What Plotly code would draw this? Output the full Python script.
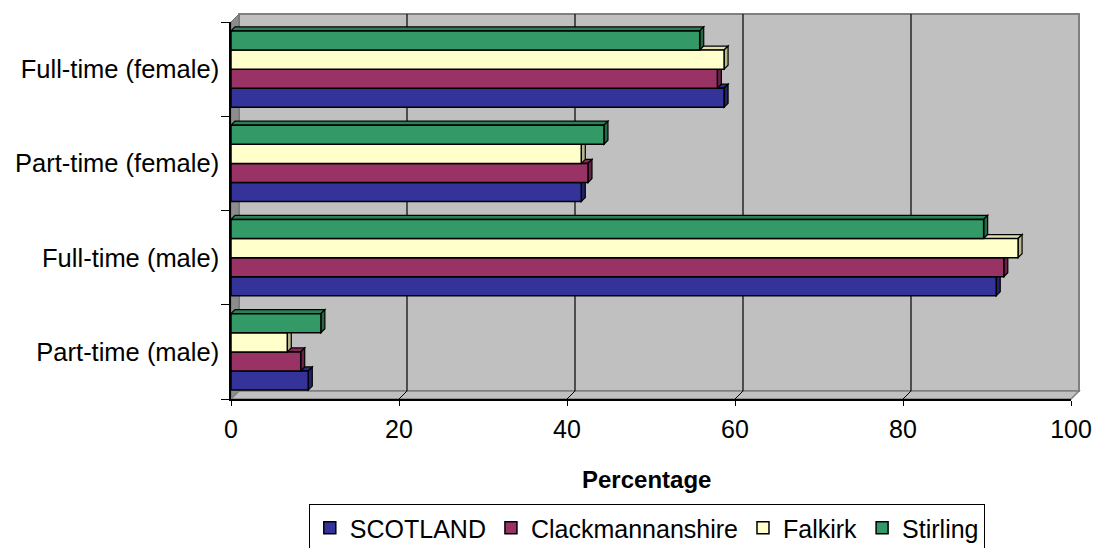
import plotly.graph_objects as go

categories = ["Part-time (male)", "Full-time (male)", "Part-time (female)", "Full-time (female)"]
series_names = ["SCOTLAND", "Clackmannanshire", "Falkirk", "Stirling"]
scotland = [9.2, 91.1, 41.7, 58.7]
clackmannanshire = [8.3, 92.0, 42.5, 57.9]
falkirk = [6.7, 93.7, 41.7, 58.7]
stirling = [10.7, 89.6, 44.4, 55.8]
x_ticks = [0, 20, 40, 60, 80, 100]

series_values = [scotland, clackmannanshire, falkirk, stirling]
front_colors = ["#333399", "#993366", "#FFFFCC", "#339966"]
side_colors = ["#22226A", "#6A2247", "#B8B890", "#236B47"]
top_colors = ["#2A2A80", "#802B55", "#E0E0B0", "#2B8057"]

W, H = 1094, 548
ML, MR, MT, MB = 231, 23, 22, 149
PW, PH = W - ML - MR, H - MT - MB
DEPTH = 8           # wall depth in px
BAR_DEPTH = 4       # bar depth in px
BARGAP = 0.19
XMAX = 100
YMIN, YMAX = -0.5, len(categories) - 0.5

ox, oy = DEPTH / PW, DEPTH / PH
px_per_x = PW / XMAX
px_per_y = PH / (YMAX - YMIN)
bdx, bdy = BAR_DEPTH / px_per_x, BAR_DEPTH / px_per_y

FONT = "Liberation Sans, Arial, sans-serif"

fig = go.Figure()
ypos = list(range(len(categories)))
for name, vals, col in zip(series_names, series_values, front_colors):
    fig.add_trace(go.Bar(
        y=ypos, x=vals, name=name, orientation="h",
        marker=dict(color=col, line=dict(color="black", width=1.5)),
    ))

shapes = []
# back wall
shapes.append(dict(type="rect", xref="paper", yref="paper", x0=ox, x1=1 + ox, y0=oy, y1=1 + oy,
                   fillcolor="#C0C0C0", line=dict(color="#808080", width=2), layer="below"))
# left wall
shapes.append(dict(type="path", xref="paper", yref="paper",
                   path=f"M 0,0 L 0,1 L {ox},{1+oy} L {ox},{oy} Z",
                   fillcolor="#8C8C8C", line=dict(color="#707070", width=1), layer="below"))
# floor
shapes.append(dict(type="path", xref="paper", yref="paper",
                   path=f"M 0,0 L {ox},{oy} L {1+ox},{oy} L 1,0 Z",
                   fillcolor="#C0C0C0", line=dict(color="#808080", width=1.5), layer="below"))
# gridlines on back wall and floor ticks
for v in x_ticks[1:-1]:
    shapes.append(dict(type="line", xref="x", yref="paper", xsizemode="pixel", xanchor=v,
                       x0=DEPTH, x1=DEPTH, y0=oy, y1=1 + oy,
                       line=dict(color="black", width=1.2), layer="below"))
    shapes.append(dict(type="line", xref="x", yref="paper", xsizemode="pixel", xanchor=v,
                       x0=0, x1=DEPTH, y0=0, y1=oy,
                       line=dict(color="black", width=1), layer="below"))

# bar 3D faces
nser = len(series_values)
bw = (1 - BARGAP) / nser
for i, vals in enumerate(series_values):
    for j, v in enumerate(vals):
        yc = ypos[j] - (1 - BARGAP) / 2 + bw * (i + 0.5)
        top, bot = yc + bw / 2, yc - bw / 2
        shapes.append(dict(type="path", xref="x", yref="y",
                           path=f"M 0,{top} L {bdx},{top+bdy} L {v+bdx},{top+bdy} L {v},{top} Z",
                           fillcolor=top_colors[i], line=dict(color="black", width=1.2), layer="between"))
        shapes.append(dict(type="path", xref="x", yref="y",
                           path=f"M {v},{bot} L {v},{top} L {v+bdx},{top+bdy} L {v+bdx},{bot+bdy} Z",
                           fillcolor=side_colors[i], line=dict(color="black", width=1.2), layer="between"))

fig.update_layout(
    width=W, height=H,
    margin=dict(l=ML, r=MR, t=MT, b=MB, pad=0, autoexpand=False),
    paper_bgcolor="white", plot_bgcolor="rgba(0,0,0,0)",
    barmode="group", bargap=BARGAP, bargroupgap=0,
    font=dict(family=FONT, color="black", size=25),
    shapes=shapes,
    showlegend=True,
    legend=dict(orientation="h", x=0.495, xanchor="center", y=-(504 - (MT + PH)) / PH, yanchor="top",
                bgcolor="white", bordercolor="black", borderwidth=1,
                font=dict(family=FONT, size=25, color="black"), traceorder="normal",
                itemclick=False),
    xaxis=dict(range=[0, XMAX], tickvals=x_ticks, ticks="outside", ticklen=5, tickcolor="black",
               showline=True, linecolor="black", linewidth=1.5, showgrid=False, zeroline=False,
               tickfont=dict(size=25), ticklabelstandoff=2, fixedrange=True, automargin=False),
    yaxis=dict(range=[YMIN, YMAX], tickvals=ypos, ticktext=categories, ticks="",
               showline=True, linecolor="black", linewidth=1.5, showgrid=False, zeroline=False,
               tickfont=dict(size=25.5), ticklabelstandoff=5,
               minor=dict(tickvals=[p - 0.5 for p in ypos] + [ypos[-1] + 0.5], ticks="outside",
                          ticklen=8, tickcolor="black", showgrid=False),
               fixedrange=True, automargin=False),
    annotations=[dict(text="<b>Percentage</b>", xref="paper", yref="paper",
                      x=0.495, y=-(479 - (MT + PH)) / PH, xanchor="center", yanchor="middle",
                      showarrow=False, font=dict(family=FONT, size=24, color="black"))],
)

fig.write_html("out.html", config={"displayModeBar": False},
               post_script="document.body.style.margin='0';document.body.style.overflow='hidden';")
